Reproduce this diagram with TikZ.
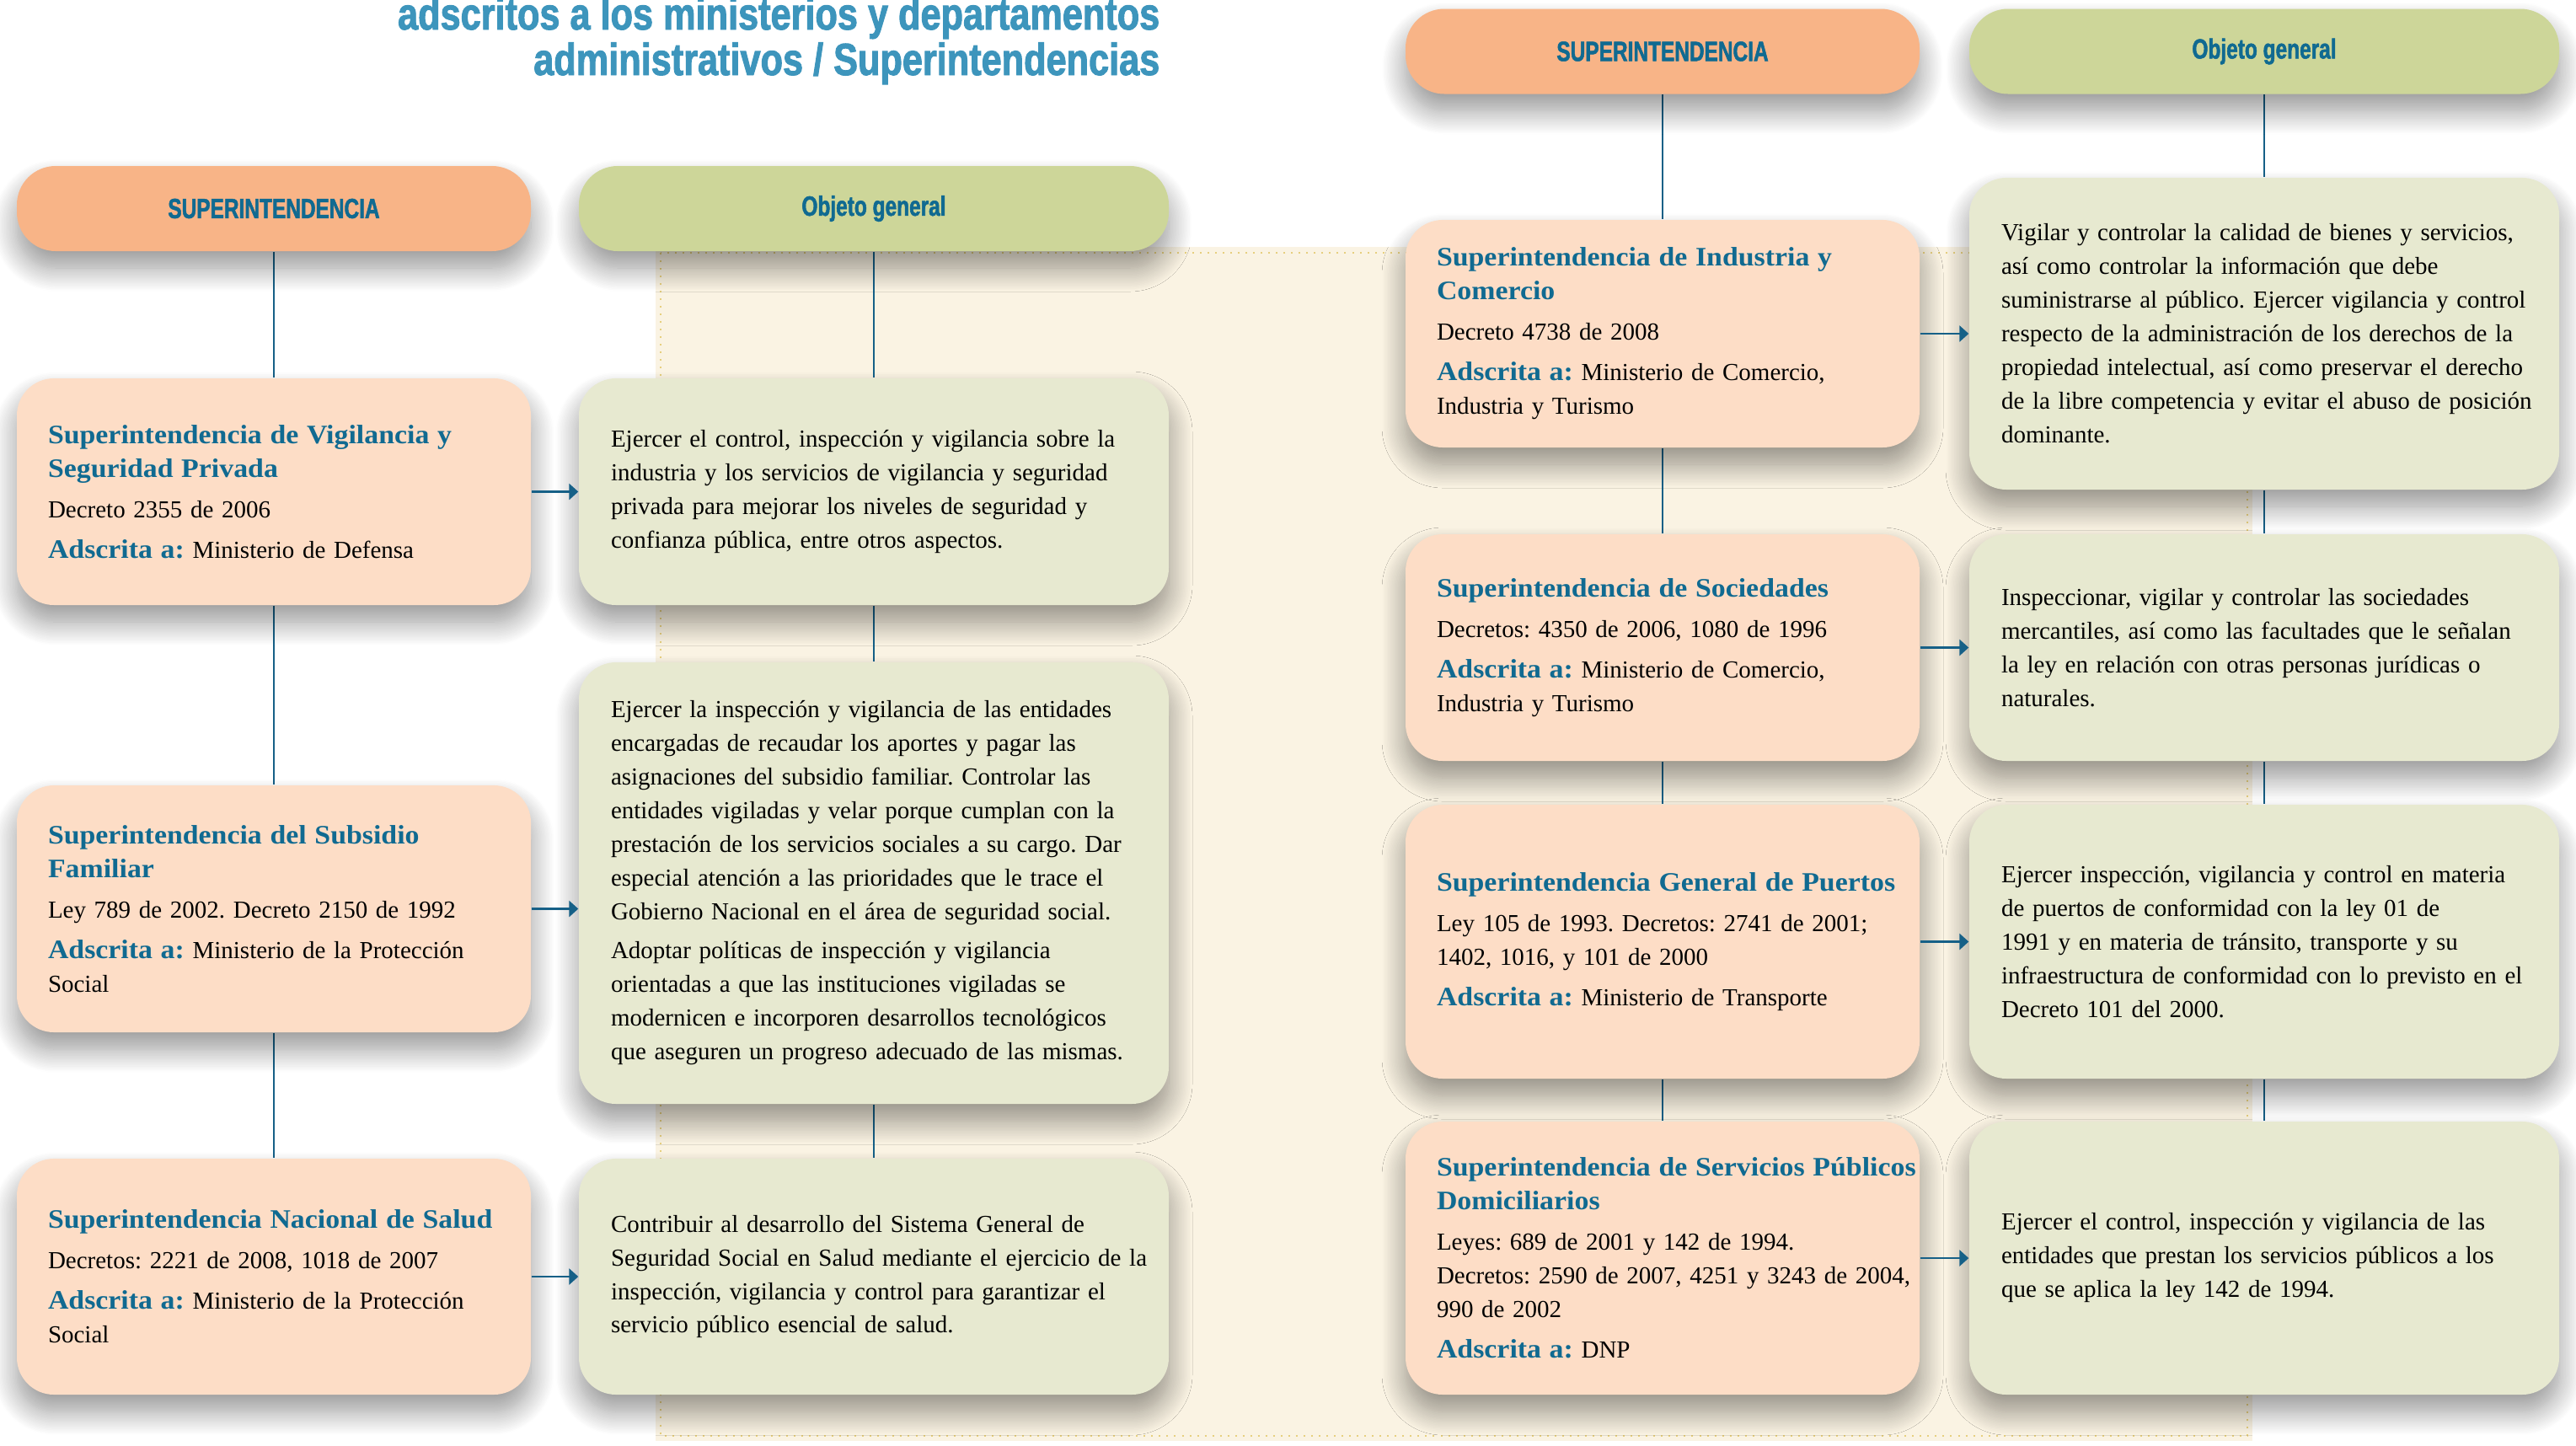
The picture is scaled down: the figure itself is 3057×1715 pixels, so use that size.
\documentclass[tikz,border=0pt]{standalone}
\usepackage{fontspec}
\setmainfont{Liberation Serif}
\newfontfamily\headfont[FakeStretch=1.07]{Liberation Serif}
\newfontfamily\condfont[FakeStretch=0.74, FakeBold=1.6]{Liberation Sans}
\newfontfamily\titlefont[FakeStretch=0.81, FakeBold=1.8]{Liberation Sans}
\usepackage{xcolor}
\usetikzlibrary{arrows.meta, positioning, backgrounds, shadows.blur}

\definecolor{peach}{HTML}{FDDDC6}
\definecolor{orangehd}{HTML}{F8B487}
\definecolor{olivebox}{HTML}{E7E9D0}
\definecolor{olivehd}{HTML}{CDD699}
\definecolor{cream}{HTML}{FAF3E3}
\definecolor{dotgold}{HTML}{E6CF7E}
\definecolor{headblue}{HTML}{106A91}
\definecolor{linkblue}{HTML}{166087}
\definecolor{titleblue}{HTML}{3D95BC}

\newcommand{\sname}[1]{{\headfont\bfseries\fontsize{9}{11.38}\selectfont\color{headblue}#1}}
\newcommand{\adscrita}{\sname{Adscrita a:}}

\begin{document}
\frenchspacing
\begin{tikzpicture}[
    x=0.1mm, y=-0.1mm,
    boxshadow/.style={blur shadow={shadow xshift=0mm, shadow yshift=-2mm, shadow blur radius=2.8mm, shadow blur steps=20, shadow opacity=42}},
    header/.style={rectangle, rounded corners=4.6mm, minimum height=10.1mm, text centered, text=headblue, font=\condfont\bfseries\fontsize{9.4}{11}\selectfont, boxshadow},
    superhd/.style={header, fill=orangehd, minimum width=61mm},
    objhd/.style={header, fill=olivehd, minimum width=70mm},
    superbox/.style={rectangle, fill=peach, rounded corners=4.4mm, minimum width=61mm, text width=60.4mm, inner xsep=0.3mm, align=left, font=\fontsize{8.25}{11.38}\selectfont, execute at begin node={\frenchspacing\leftskip=3.4mm}, boxshadow},
    objbox/.style={rectangle, fill=olivebox, rounded corners=4.4mm, minimum width=70mm, text width=69.4mm, inner xsep=0.3mm, align=left, font=\fontsize{8.25}{11.38}\selectfont, execute at begin node={\frenchspacing\leftskip=3.5mm}, boxshadow},
    titletext/.style={anchor=base east, inner sep=0pt, text=titleblue, font=\titlefont\bfseries\fontsize{15.2}{15.4}\selectfont},
    link/.style={draw=linkblue, line width=0.28mm},
    arrow/.style={-{Triangle[length=1.1mm, width=1.9mm]}, draw=linkblue, fill=linkblue, line width=0.28mm}
]
\useasboundingbox (0,0) rectangle (3057,1715);

% title
\node (t1) [titletext] at (1377,35) {adscritos a los ministerios y departamentos};
\node (t2) [titletext] at (1377,89) {administrativos / Superintendencias};

% left half
\node (h1) [superhd] at (325,247.5) {SUPERINTENDENCIA};
\node (h2) [objhd] at (1037,247.5) {Objeto general};

\node (n1) [superbox, minimum height=26.9mm] at (325,583.5) {\sname{Superintendencia de Vigilancia y}\\\sname{Seguridad Privada}\\[0.8mm]
Decreto 2355 de 2006\\[0.8mm]
\adscrita{} Ministerio de Defensa};
\node (o1) [objbox, minimum height=26.9mm] at (1037,583.5) {Ejercer el control, inspección y vigilancia sobre la\\
industria y los servicios de vigilancia y seguridad\\
privada para mejorar los niveles de seguridad y\\
confianza pública, entre otros aspectos.};

\node (n2) [superbox, minimum height=29.3mm] at (325,1078.5) {\sname{Superintendencia del Subsidio}\\\sname{Familiar}\\[0.8mm]
Ley 789 de 2002. Decreto 2150 de 1992\\[0.8mm]
\adscrita{} Ministerio de la Protección\\
Social};
\node (o2) [objbox, minimum height=52.4mm] at (1037,1048) {Ejercer la inspección y vigilancia de las entidades\\
encargadas de recaudar los aportes y pagar las\\
asignaciones del subsidio familiar. Controlar las\\
entidades vigiladas y velar porque cumplan con la\\
prestación de los servicios sociales a su cargo. Dar\\
especial atención a las prioridades que le trace el\\
Gobierno Nacional en el área de seguridad social.\\[0.6mm]
Adoptar políticas de inspección y vigilancia\\
orientadas a que las instituciones vigiladas se\\
modernicen e incorporen desarrollos tecnológicos\\
que aseguren un progreso adecuado de las mismas.};

\node (n3) [superbox, minimum height=28mm] at (325,1515) {\sname{Superintendencia Nacional de Salud}\\[0.8mm]
Decretos: 2221 de 2008, 1018 de 2007\\[0.8mm]
\adscrita{} Ministerio de la Protección\\
Social};
\node (o3) [objbox, minimum height=28mm] at (1037,1515) {Contribuir al desarrollo del Sistema General de\\
Seguridad Social en Salud mediante el ejercicio de la\\
inspección, vigilancia y control para garantizar el\\
servicio público esencial de salud.};

% right half
\node (h3) [superhd] at (1973,61) {SUPERINTENDENCIA};
\node (h4) [objhd] at (2687,61) {Objeto general};

\node (n4) [superbox, minimum height=27mm] at (1973,396) {\sname{Superintendencia de Industria y}\\\sname{Comercio}\\[0.8mm]
Decreto 4738 de 2008\\[0.8mm]
\adscrita{} Ministerio de Comercio,\\
Industria y Turismo};
\node (o4) [objbox, minimum height=37mm] at (2687,396) {Vigilar y controlar la calidad de bienes y servicios,\\
así como controlar la información que debe\\
suministrarse al público. Ejercer vigilancia y control\\
respecto de la administración de los derechos de la\\
propiedad intelectual, así como preservar el derecho\\
de la libre competencia y evitar el abuso de posición\\
dominante.};

\node (n5) [superbox, minimum height=26.9mm] at (1973,768.5) {\sname{Superintendencia de Sociedades}\\[0.8mm]
Decretos: 4350 de 2006, 1080 de 1996\\[0.8mm]
\adscrita{} Ministerio de Comercio,\\
Industria y Turismo};
\node (o5) [objbox, minimum height=26.9mm] at (2687,768.5) {Inspeccionar, vigilar y controlar las sociedades\\
mercantiles, así como las facultades que le señalan\\
la ley en relación con otras personas jurídicas o\\
naturales.};

\node (n6) [superbox, minimum height=32.5mm] at (1973,1117.5) {\sname{Superintendencia General de Puertos}\\[0.8mm]
Ley 105 de 1993. Decretos: 2741 de 2001;\\
1402, 1016, y 101 de 2000\\[0.8mm]
\adscrita{} Ministerio de Transporte};
\node (o6) [objbox, minimum height=32.5mm] at (2687,1117.5) {Ejercer inspección, vigilancia y control en materia\\
de puertos de conformidad con la ley 01 de\\
1991 y en materia de tránsito, transporte y su\\
infraestructura de conformidad con lo previsto en el\\
Decreto 101 del 2000.};

\node (n7) [superbox, minimum height=32.4mm] at (1973,1493) {\sname{Superintendencia de Servicios Públicos}\\\sname{Domiciliarios}\\[0.8mm]
Leyes: 689 de 2001 y 142 de 1994.\\
Decretos: 2590 de 2007, 4251 y 3243 de 2004,\\
990 de 2002\\[0.8mm]
\adscrita{} DNP};
\node (o7) [objbox, minimum height=32.4mm] at (2687,1493) {Ejercer el control, inspección y vigilancia de las\\
entidades que prestan los servicios públicos a los\\
que se aplica la ley 142 de 1994.};

% arrows
\draw [arrow] (n1.east) -- (n1.east -| o1.west);
\draw [arrow] (n2.east) -- (n2.east -| o2.west);
\draw [arrow] (n3.east) -- (n3.east -| o3.west);
\draw [arrow] (n4.east) -- (n4.east -| o4.west);
\draw [arrow] (n5.east) -- (n5.east -| o5.west);
\draw [arrow] (n6.east) -- (n6.east -| o6.west);
\draw [arrow] (n7.east) -- (n7.east -| o7.west);

\begin{scope}[on background layer]
\fill [cream] (778,293) rectangle (2673,1710);
\draw [dotgold, dotted, line width=0.2mm] (784,300) rectangle (2667,1704);
\draw [link] (h1) -- (n1) -- (n2) -- (n3);
\draw [link] (h2) -- (o1) -- (o2) -- (o3);
\draw [link] (h3) -- (n4) -- (n5) -- (n6) -- (n7);
\draw [link] (h4) -- (o4) -- (o5) -- (o6) -- (o7);
\end{scope}

\end{tikzpicture}
\end{document}
